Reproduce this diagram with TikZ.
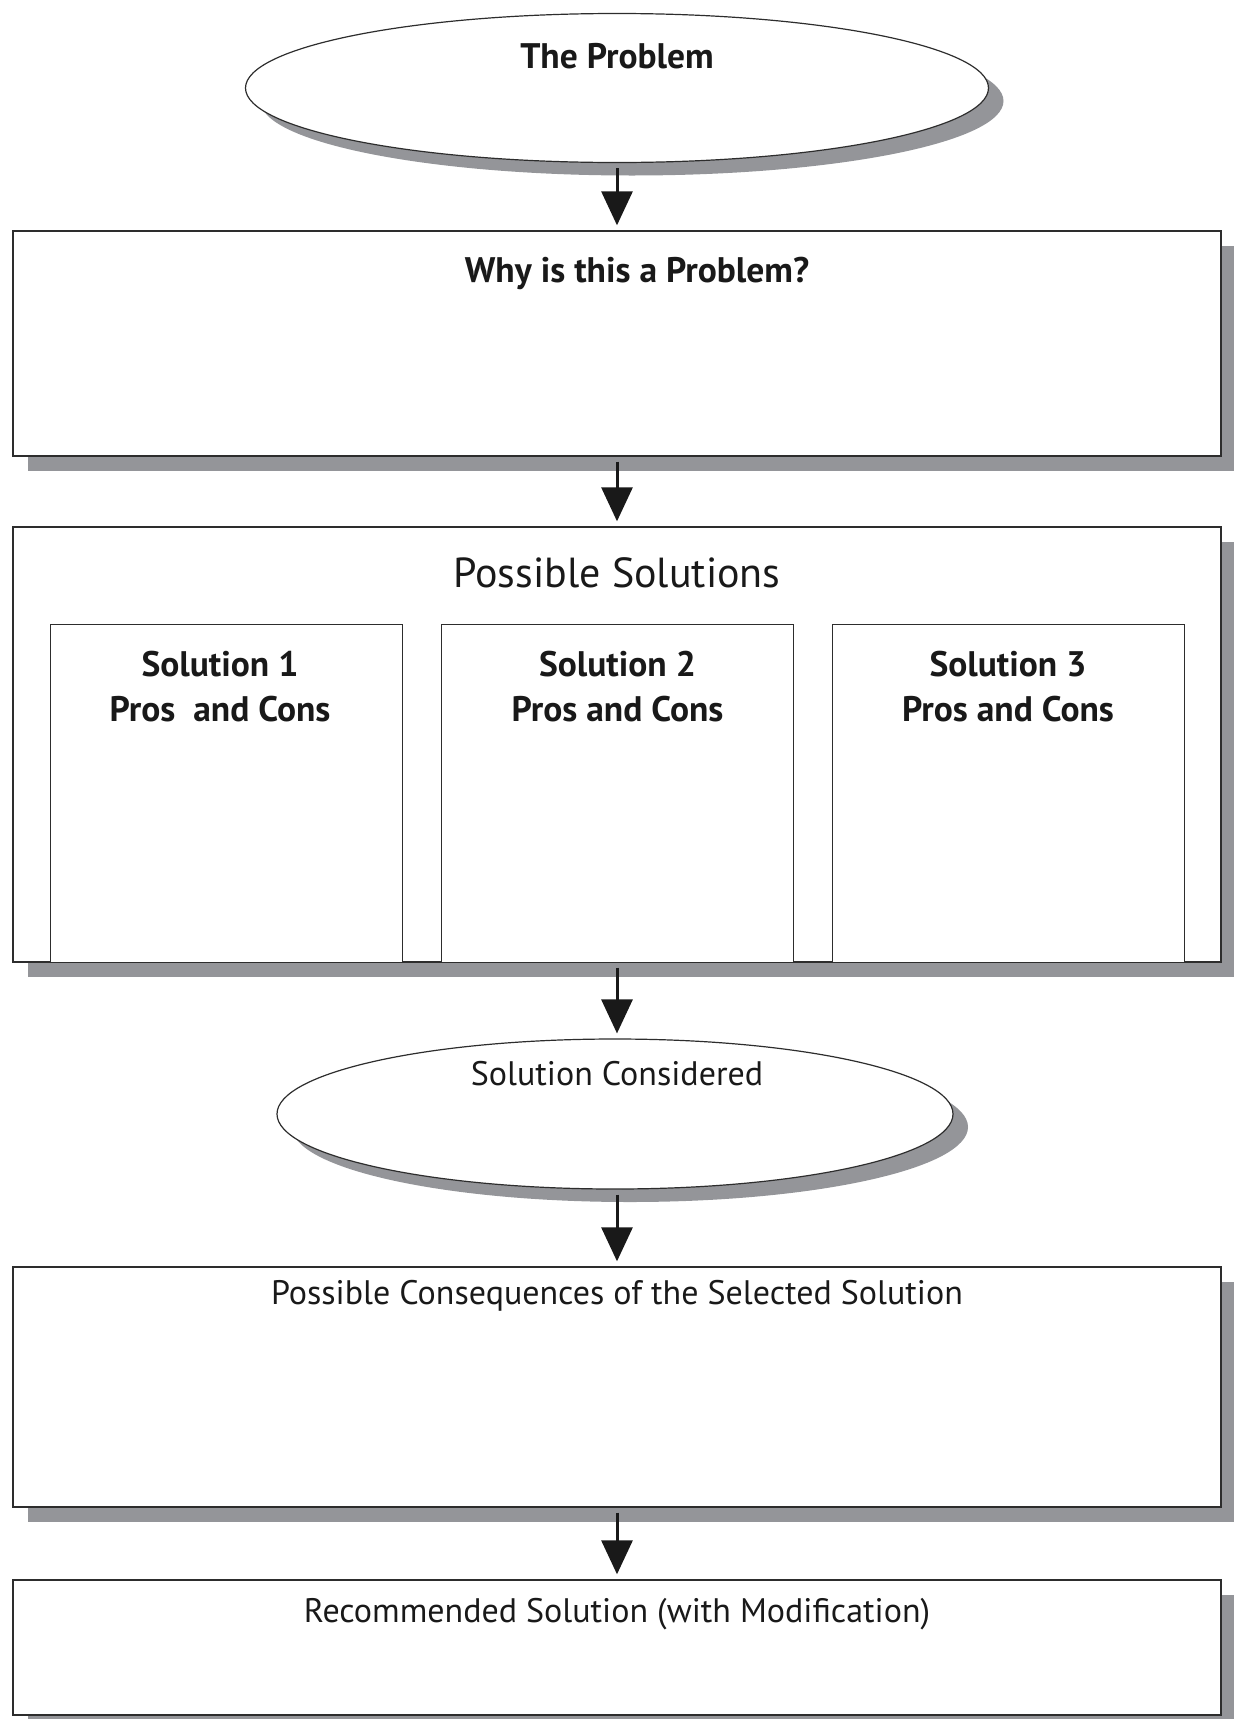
\documentclass[tikz,border=0pt]{standalone}
\usepackage{fontspec}
\setmainfont{PT Sans}
\usetikzlibrary{shapes.geometric,shadows,arrows.meta}
\definecolor{shadowgray}{RGB}{148,149,153}
\definecolor{edgegray}{RGB}{45,45,45}
\begin{document}
\begin{tikzpicture}[x=1pt,y=-1pt,
  shade box/.style={draw=edgegray,line width=1.4pt,fill=white,
    drop shadow={shadow xshift=15pt,shadow yshift=-15pt,fill=shadowgray,opacity=1}},
  framebox/.style={shade box,rectangle,inner sep=0pt},
  ovalbox/.style={draw=edgegray,line width=1.2pt,fill=white,ellipse,inner sep=0pt,
    drop shadow={shadow xshift=15pt,shadow yshift=-13pt,fill=shadowgray,opacity=1}},
  subbox/.style={draw=edgegray,line width=1pt,fill=white,rectangle,inner sep=0pt,
    minimum width=352pt,minimum height=338pt},
  boldtxt/.style={anchor=base,font=\fontsize{35.5}{40}\selectfont\bfseries,text=black!90},
  plaintxt/.style={anchor=base,font=\fontsize{34}{38}\selectfont,text=black!90},
  flow/.style={line width=3pt,black!90,shorten <=5pt,shorten >=5pt,
    -{Triangle[width=31pt,length=34pt]}}]
\useasboundingbox (0,0) rectangle (1234,1719);

% stages of the flow
\node[ovalbox,minimum width=743pt,minimum height=149pt] (prob) at (617,88) {};
\node[framebox,minimum width=1208pt,minimum height=225pt] (why) at (617,343.5) {};
\node[framebox,minimum width=1208pt,minimum height=435pt] (sols) at (617,744.5) {};
\node[subbox] (s1) at (226,793) {};
\node[subbox] (s2) at (617.5,793) {};
\node[subbox] (s3) at (1008,793) {};
\node[ovalbox,minimum width=676pt,minimum height=150pt] (cons) at (615,1114) {};
\node[framebox,minimum width=1208pt,minimum height=240pt] (conseq) at (617,1387) {};
\node[framebox,minimum width=1208pt,minimum height=135pt] (rec) at (617,1647.5) {};

% titles
\node[boldtxt] (tprob) at (617,68) {The Problem};
\node[boldtxt] (twhy) at (637,282) {Why is this a Problem?};
\node[plaintxt,font=\fontsize{42}{46}\selectfont] (tsols) at (617,587) {Possible Solutions};
\node[boldtxt] (ts1a) at (220,676) {Solution 1};
\node[boldtxt] (ts1b) at (220,721) {Pros~ and Cons};
\node[boldtxt] (ts2a) at (617.5,676) {Solution 2};
\node[boldtxt] (ts2b) at (617.5,721) {Pros and Cons};
\node[boldtxt] (ts3a) at (1008,676) {Solution 3};
\node[boldtxt] (ts3b) at (1008,721) {Pros and Cons};
\node[plaintxt] (tcons) at (617,1085) {Solution Considered};
\node[plaintxt] (tconseq) at (617,1304) {Possible Consequences of the Selected Solution};
\node[plaintxt] (trec) at (617,1622) {Recommended Solution (with Modification)};

% connectors
\draw[flow] (prob.south -| why.north) -- (why.north);
\draw[flow] (why.south) -- (sols.north);
\draw[flow] (sols.south) -- (cons.north -| sols.south);
\draw[flow] (cons.south -| conseq.north) -- (conseq.north);
\draw[flow] (conseq.south) -- (rec.north);
\end{tikzpicture}
\end{document}
